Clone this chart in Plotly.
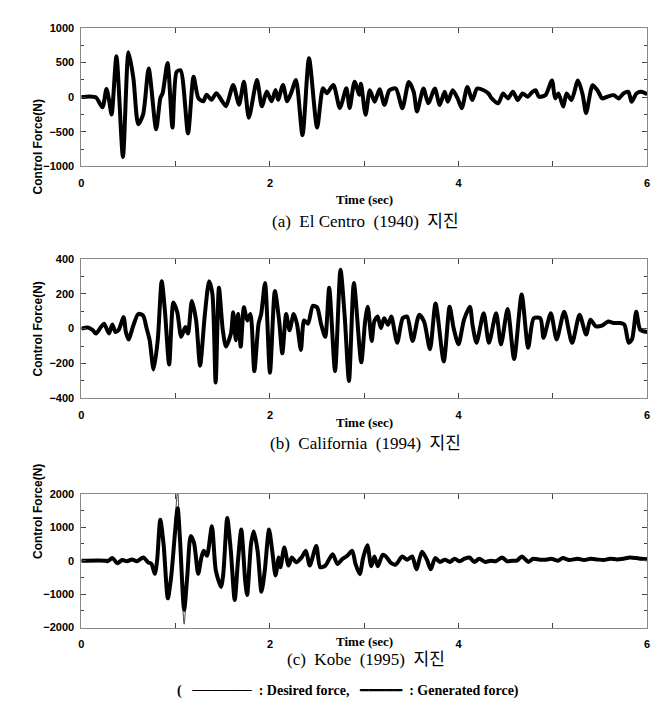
import plotly.graph_objects as go

# El Centro (1940) - control force (N)
elcentro_t = [0, 0.086, 0.155, 0.224, 0.266, 0.293, 0.321, 0.372, 0.441, 0.5, 0.552, 0.603, 0.655,
              0.714, 0.793, 0.838, 0.862, 0.914, 0.966, 1.01, 1.052, 1.131, 1.19, 1.241, 1.293, 1.328,
              1.379, 1.431, 1.483, 1.534, 1.61, 1.672, 1.724, 1.776, 1.862, 1.914, 1.966, 2.017, 2.059,
              2.086, 2.138, 2.183, 2.224, 2.276, 2.345, 2.414, 2.5, 2.562, 2.603, 2.672, 2.741, 2.81,
              2.845, 2.897, 2.948,
              2.965, 3.014, 3.059, 3.11, 3.162, 3.214, 3.266, 3.335, 3.404, 3.472, 3.524, 3.559, 3.628,
              3.679, 3.748, 3.8, 3.852, 3.886, 3.938, 3.99, 4.034, 4.093, 4.145, 4.197, 4.266, 4.317,
              4.352, 4.421, 4.472, 4.524, 4.576, 4.628, 4.679, 4.731, 4.783, 4.817, 4.852, 4.921, 4.99,
              5.024, 5.059, 5.11, 5.145, 5.197, 5.266, 5.317, 5.352, 5.421, 5.472, 5.524, 5.576, 5.645,
              5.697, 5.748, 5.8, 5.835, 5.886, 5.938, 6.0]
elcentro_f = [0, 10, -5, -146, 118, -38, -250, 590, -864, 647, 269, -392, -250,
              411, -463, -14, 57, 491, -439, 363, 387, -524, 293, -14, -61, 33,
              -38, 57, -38, -132, 175, -109, 222, -297, 245, -132, 80, -61, 104,
              -38, 175, -61, 57, 245, -548, 562, -439, 127, 57, 175, -156, 127,
              -156, 222, 33,
              194, -255, 99, -66, 113, -113, 99, 123, -160, 217, 76, -208, 123,
              -90, 123, -113, 76, -66, 99, -19, -160, 146, -42, 123, 99, 52,
              -19, -90, 52, -19, 76, -42, 52, 5, 76, 99, 5, 28, 241,
              -19, 52, -137, 52, -42, 241, 28, -231, 170, 99, -19, 5, 28,
              -19, 52, 76, -66, 52, 76, 40]

# California (1994)
calif_t = [0, 0.069, 0.121, 0.155, 0.207, 0.241, 0.293, 0.328, 0.362, 0.397, 0.448, 0.472, 0.5,
           0.552, 0.603, 0.655, 0.69, 0.724, 0.766, 0.81, 0.852, 0.886, 0.931, 0.976, 1.017, 1.059,
           1.103, 1.131, 1.172, 1.217, 1.259, 1.31, 1.355, 1.39, 1.424, 1.459, 1.5, 1.534, 1.586,
           1.61, 1.638, 1.662, 1.69, 1.724, 1.759, 1.793, 1.834, 1.879, 1.907, 1.948, 2.0, 2.052,
           2.097, 2.131, 2.172, 2.207, 2.252, 2.286, 2.328, 2.362, 2.403, 2.455, 2.5, 2.541, 2.586,
           2.628, 2.69, 2.748, 2.793, 2.838, 2.89,
           2.968, 3.009, 3.037, 3.079, 3.106, 3.141, 3.176, 3.211, 3.252, 3.287, 3.349, 3.408, 3.454,
           3.513, 3.582, 3.634, 3.697, 3.756, 3.843, 3.905, 3.947, 3.999, 4.058, 4.12, 4.148, 4.19,
           4.266, 4.322, 4.398, 4.45, 4.52, 4.589, 4.669, 4.738, 4.797, 4.867, 4.901, 4.978, 5.04,
           5.12, 5.204, 5.283, 5.353, 5.398, 5.457, 5.526, 5.586, 5.648, 5.717, 5.759, 5.804, 5.839,
           5.884, 5.926, 6.0]
calif_f = [0, 6, -9, -28, 9, 28, -28, 24, -19, -6, 66, -19, -62,
           19, 84, 75, 6, -66, -234, -66, 272, 103, -206, 150, 94, -47,
           9, -28, 159, 47, -212, 84, 272, 197, -309, 234, -9, -103, -28,
           94, -66, 84, -103, 122, 47, 84, -244, 28, 84, 262, -253, 216,
           47, -141, 84, -9, 84, 28, -122, 47, 28, 131, 122, 28, -47,
           234, -244, 338, 66, -300, 262,
           -193, 41, 126, -71, 41, 69, 4, 60, 22, 69, -81, 60, 69,
           -71, 79, 41, -118, 144, -188, 126, 4, -90, 51, 126, 22, -81,
           88, -81, 88, -90, 112, -174, 195, -109, 60, 60, -52, 88, -62,
           97, -81, 79, -34, 51, 13, 19, 41, 32, 32, 22, -81, -62,
           97, -6, -20]

# Kobe (1995)
kobe_t = [0, 0.26, 0.277, 0.329, 0.381, 0.433, 0.484, 0.536, 0.588, 0.657, 0.709, 0.744, 0.779,
          0.803, 0.837, 0.872, 0.917, 0.952, 1.021, 1.045, 1.09, 1.125, 1.159, 1.194, 1.239, 1.273,
          1.298, 1.332, 1.384, 1.426, 1.481, 1.505, 1.547, 1.585, 1.626, 1.661, 1.696, 1.737, 1.758,
          1.799, 1.827, 1.869, 1.91, 1.945, 1.99, 2.024, 2.059, 2.093, 2.111, 2.152, 2.197, 2.232,
          2.277, 2.336, 2.381, 2.422, 2.491, 2.533, 2.588, 2.664, 2.716, 2.768, 2.82, 2.872, 2.907,
          2.952, 2.987, 3.032, 3.074, 3.108, 3.143, 3.195, 3.23, 3.282, 3.334, 3.403, 3.456, 3.508,
          3.553, 3.612, 3.664, 3.706, 3.751, 3.803, 3.855, 3.907, 3.959, 4.011, 4.063, 4.115, 4.167,
          4.219, 4.282, 4.341, 4.393, 4.463, 4.515, 4.567, 4.619, 4.671, 4.74, 4.792, 4.862, 4.931,
          4.983, 5.053, 5.105, 5.174, 5.261, 5.331, 5.4, 5.469, 5.539, 5.608, 5.678, 5.747, 5.817,
          5.886, 5.938, 6.0]
kobe_f = [0, 0, -20, 78, -78, 20, -20, 39, -20, 98, -49, -98, -392,
          0, 1225, 490, -1127, -490, 1568, 686, -1470, -392, 735, 539, -392, 98,
          294, 147, 1029, -294, -784, -392, 1274, 294, -1176, 0, 931, -588, -1029,
          490, 882, 294, -931, -294, 931, 294, -441, 98, -196, 392, -147, 98,
          -49, 98, 294, -147, 441, -196, -147, 196, -98, 49, 147, 294, -98,
          -403, 77, 461, -163, 125, -163, 173, 125, -67, -115, 125, 29, 125,
          -259, 269, 29, -259, 77, -38, 29, -38, 58, -19, 58, 96, -38,
          58, -38, 0, -19, 96, -19, 0, 0, 125, -38, 58, 29, 29,
          58, 0, 77, 19, 58, 19, 58, 38, 19, 58, 38, 58, 96,
          77, 58, 40]
# desired force overshoots the generated one at the two main Kobe peaks
kobe_desired_peaks = {1.021: 2080, 1.09: -1900}

panels = [
    (elcentro_t, elcentro_f, elcentro_f, [-1000, 1000], 500, 250, "(a)  El Centro  (1940)  지진"),
    (calif_t, calif_f, calif_f, [-400, 400], 200, 100, "(b)  California  (1994)  지진"),
    (kobe_t, kobe_f, [kobe_desired_peaks.get(t, f) for t, f in zip(kobe_t, kobe_f)],
     [-2000, 2000], 1000, 500, "(c)  Kobe  (1995)  지진"),
]

W, H = 662, 716
x_left, x_right = 71, 642
frames = [(14, 155), (249, 391), (488, 624)]   # top, bottom in px
time_y = [179, 415, 648]
captions_y = [199, 437, 668]

fig = go.Figure()
tick_font = dict(family="Liberation Sans", size=11, color="black", weight="bold")

for i, (t, gen, des, yr, dt, mdt, cap) in enumerate(panels):
    n = "" if i == 0 else str(i + 1)
    top, bot = frames[i]
    fig.add_trace(go.Scatter(x=t, y=des, mode="lines",
                             line=dict(color="#444", width=1, shape="spline", smoothing=0.7),
                             xaxis="x" + n, yaxis="y" + n, showlegend=False))
    fig.add_trace(go.Scatter(x=t, y=gen, mode="lines",
                             line=dict(color="black", width=4, shape="spline", smoothing=0.7),
                             xaxis="x" + n, yaxis="y" + n, showlegend=False))
    fig.update_layout(**{
        "xaxis" + n: dict(domain=[x_left / W, x_right / W], anchor="y" + n, range=[0, 6],
                          tickvals=[0, 2, 4, 6], ticks="inside", ticklen=5, tickcolor="#444",
                          minor=dict(dtick=1, ticks="inside", ticklen=5, tickcolor="#444"),
                          showline=True, linecolor="#888", linewidth=1, mirror="ticks",
                          showgrid=False, zeroline=False, tickfont=tick_font,
                          ticklabelstandoff=6),
        "yaxis" + n: dict(domain=[1 - bot / H, 1 - top / H], anchor="x" + n, range=yr,
                          dtick=dt, ticks="inside", ticklen=5, tickcolor="#444",
                          minor=dict(dtick=mdt, ticks="inside", ticklen=3, tickcolor="#444"),
                          showline=True, linecolor="#888", linewidth=1, mirror="ticks",
                          showgrid=False, zeroline=False, tickfont=tick_font,
                          ticklabelstandoff=4),
    })
    fig.add_annotation(x=18 / W, y=1 - (top + bot) / 2 / H, xref="paper", yref="paper",
                       text="Control Force(N)", textangle=-90, showarrow=False,
                       font=dict(family="Liberation Sans", size=12, color="black", weight="bold"))
    fig.add_annotation(x=(x_left + x_right) / 2 / W, y=1 - time_y[i] / H, xref="paper", yref="paper",
                       text="Time (sec)", showarrow=False,
                       font=dict(family="Liberation Serif", size=13, color="black", weight="bold"))
    fig.add_annotation(x=358 / W, y=1 - captions_y[i] / H, xref="paper", yref="paper",
                       text=cap, showarrow=False,
                       font=dict(family="Liberation Serif, Noto Sans CJK KR", size=17, color="black"))

fig.add_annotation(x=340 / W, y=1 - 699 / H, xref="paper", yref="paper", showarrow=False,
                   text="(   ──────  : Desired force,   <b>━━━━━</b>  : Generated force)",
                   font=dict(family="Liberation Serif, DejaVu Sans", size=14, color="black", weight="bold"))

fig.update_layout(width=W, height=H, margin=dict(l=0, r=0, t=0, b=0),
                  paper_bgcolor="white", plot_bgcolor="white", showlegend=False)

fig.write_html("out.html")
